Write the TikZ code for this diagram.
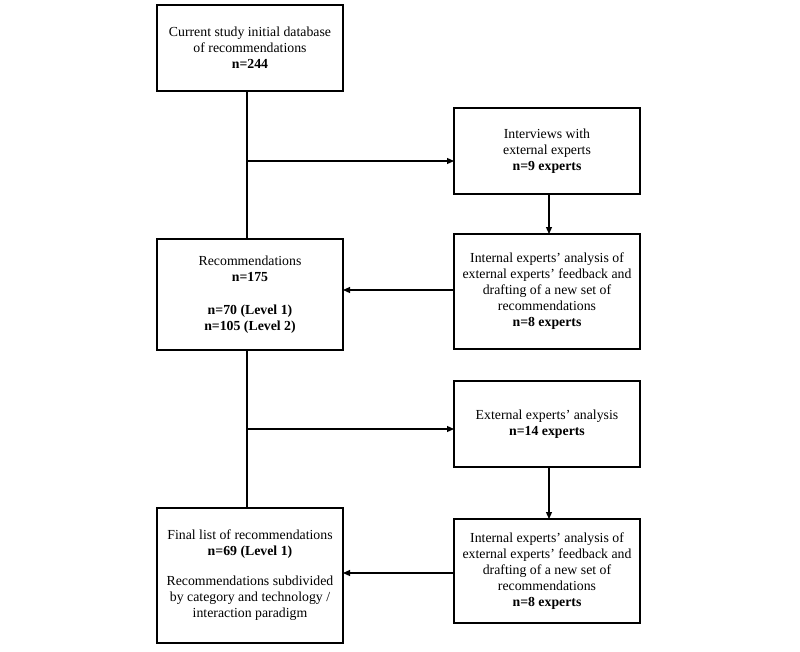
\documentclass[tikz,border=0pt]{standalone}
\usepackage{fontspec}
\setmainfont{Liberation Serif}
\usetikzlibrary{arrows.meta}
\begin{document}
\begin{tikzpicture}[x=1pt,y=-1pt,
  box/.style={draw, line width=1.2pt, rectangle, align=center, inner sep=0pt, outer sep=0pt,
    minimum width=186pt, font=\fontsize{13.8}{16}\selectfont},
  conn/.style={line width=1.2pt},
  arr/.style={line width=1.2pt, -{Triangle[length=7pt,width=6pt]}}]
\useasboundingbox (0,0) rectangle (800,651);
\node[box, minimum height=86pt] (b1) at (250,48) {Current study initial database\\of recommendations\\\textbf{n=244}};
\node[box, minimum height=86pt] (b2) at (547,151) {Interviews with\\external experts\\\textbf{n=9 experts}};
\node[box, minimum height=111pt] (b3) at (250,294.5) {Recommendations\\\textbf{n=175}\\[17pt]\textbf{n=70 (Level 1)}\\\textbf{n=105 (Level 2)}};
\node[box, minimum height=115pt] (b4) at (547,291.5) {Internal experts’ analysis of\\external experts’ feedback and\\drafting of a new set of\\recommendations\\\textbf{n=8 experts}};
\node[box, minimum height=86pt] (b5) at (547,424) {External experts’ analysis\\\textbf{n=14 experts}};
\node[box, minimum height=135pt] (b6) at (250,575.5) {Final list of recommendations\\\textbf{n=69 (Level 1)}\\[14pt]Recommendations subdivided\\by category and technology /\\interaction paradigm};
\node[box, minimum height=104pt] (b7) at (547,571) {Internal experts’ analysis of\\external experts’ feedback and\\drafting of a new set of\\recommendations\\\textbf{n=8 experts}};
\coordinate (j1) at (247,161);
\coordinate (j2) at (247,429);
\coordinate (v1) at (549,0);
\coordinate (h1) at (0,290);
\coordinate (h2) at (0,573);
\draw[conn] (b1.south -| j1) -- (b3.north -| j1);
\draw[arr] (j1) -- (b2.west |- j1);
\draw[arr] (b2.south -| v1) -- (b4.north -| v1);
\draw[arr] (b4.west |- h1) -- (b3.east |- h1);
\draw[conn] (b3.south -| j2) -- (b6.north -| j2);
\draw[arr] (j2) -- (b5.west |- j2);
\draw[arr] (b5.south -| v1) -- (b7.north -| v1);
\draw[arr] (b7.west |- h2) -- (b6.east |- h2);
\end{tikzpicture}
\end{document}
